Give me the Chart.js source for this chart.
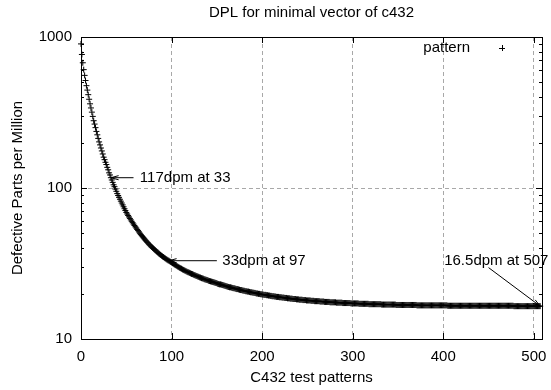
<!DOCTYPE html>
<html>
<head>
<meta charset="utf-8">
<script src="https://cdn.jsdelivr.net/npm/chart.js@4.4.0/dist/chart.umd.min.js"></script>
<style>
  html, body { margin: 0; padding: 0; background: #fff; }
  #wrap { width: 551px; height: 390px; }
</style>
</head>
<body>
<div id="wrap"><canvas id="c" width="551" height="390"></canvas></div>
<script>
const title = 'DPL for minimal vector of c432';
const xTitle = 'C432 test patterns';
const yTitle = 'Defective Parts per Million';
const seriesName = 'pattern';
const xTicks = [0, 100, 200, 300, 400, 500];
const yTicks = [10, 100, 1000];

// DPL after each pattern (array index = pattern number)
const dpm = [
  900,766,675,608,557,515,476,445,415,387,
  361,339,318,298,279,265,251,237,225,213,
  202,193,184,176,168,160,154,148,143,137,
  132,126,122,117,113,109,105,102,98.4,95.1,
  91.8,89.2,86.7,84.2,81.8,79.5,77.3,75.1,72.9,70.9,
  68.9,67.3,65.8,64.3,62.9,61.5,60.2,58.9,57.7,56.5,
  55.3,54.3,53.2,52.2,51.2,50.2,49.3,48.4,47.6,46.8,
  46.0,45.2,44.5,43.8,43.2,42.5,41.9,41.3,40.7,40.2,
  39.7,39.2,38.7,38.2,37.7,37.3,36.8,36.4,36.0,35.6,
  35.2,34.9,34.5,34.2,33.8,33.5,33.2,33.0,32.7,32.4,
  32.1,31.8,31.5,31.2,30.9,30.7,30.4,30.1,29.9,29.6,
  29.4,29.2,28.9,28.7,28.5,28.3,28.1,27.9,27.7,27.6,
  27.4,27.2,27.0,26.9,26.7,26.5,26.4,26.2,26.1,25.9,
  25.8,25.6,25.5,25.3,25.2,25.1,24.9,24.8,24.7,24.6,
  24.5,24.3,24.2,24.1,24.0,23.9,23.8,23.7,23.6,23.5,
  23.4,23.2,23.1,23.0,23.0,22.9,22.8,22.7,22.6,22.5,
  22.4,22.3,22.2,22.1,22.0,22.0,21.9,21.8,21.7,21.7,
  21.6,21.5,21.4,21.4,21.3,21.2,21.1,21.1,21.0,20.9,
  20.9,20.8,20.7,20.7,20.6,20.6,20.5,20.4,20.4,20.3,
  20.3,20.2,20.2,20.1,20.0,20.0,19.9,19.9,19.8,19.8,
  19.7,19.7,19.6,19.6,19.6,19.5,19.5,19.4,19.4,19.3,
  19.3,19.2,19.2,19.2,19.1,19.1,19.0,19.0,19.0,18.9,
  18.9,18.9,18.8,18.8,18.8,18.7,18.7,18.7,18.6,18.6,
  18.6,18.5,18.5,18.5,18.4,18.4,18.4,18.4,18.3,18.3,
  18.3,18.2,18.2,18.2,18.2,18.1,18.1,18.1,18.1,18.0,
  18.0,18.0,18.0,18.0,17.9,17.9,17.9,17.9,17.8,17.8,
  17.8,17.8,17.8,17.8,17.7,17.7,17.7,17.7,17.7,17.6,
  17.6,17.6,17.6,17.6,17.6,17.5,17.5,17.5,17.5,17.5,
  17.5,17.5,17.4,17.4,17.4,17.4,17.4,17.4,17.4,17.3,
  17.3,17.3,17.3,17.3,17.3,17.3,17.3,17.3,17.2,17.2,
  17.2,17.2,17.2,17.2,17.2,17.2,17.2,17.1,17.1,17.1,
  17.1,17.1,17.1,17.1,17.1,17.1,17.1,17.1,17.0,17.0,
  17.0,17.0,17.0,17.0,17.0,17.0,17.0,17.0,17.0,17.0,
  17.0,17.0,16.9,16.9,16.9,16.9,16.9,16.9,16.9,16.9,
  16.9,16.9,16.9,16.9,16.9,16.9,16.9,16.9,16.8,16.8,
  16.8,16.8,16.8,16.8,16.8,16.8,16.8,16.8,16.8,16.8,
  16.8,16.8,16.8,16.8,16.8,16.8,16.8,16.8,16.8,16.8,
  16.8,16.7,16.7,16.7,16.7,16.7,16.7,16.7,16.7,16.7,
  16.7,16.7,16.7,16.7,16.7,16.7,16.7,16.7,16.7,16.7,
  16.7,16.7,16.7,16.7,16.7,16.7,16.7,16.7,16.7,16.7,
  16.7,16.7,16.7,16.7,16.7,16.6,16.6,16.6,16.6,16.6,
  16.6,16.6,16.6,16.6,16.6,16.6,16.6,16.6,16.6,16.6,
  16.6,16.6,16.6,16.6,16.6,16.6,16.6,16.6,16.6,16.6,
  16.6,16.6,16.6,16.6,16.6,16.6,16.6,16.6,16.6,16.6,
  16.6,16.6,16.6,16.6,16.6,16.6,16.6,16.6,16.6,16.6,
  16.6,16.6,16.6,16.6,16.6,16.6,16.6,16.6,16.6,16.6,
  16.6,16.6,16.6,16.6,16.6,16.6,16.6,16.6,16.6,16.6,
  16.6,16.6,16.6,16.6,16.6,16.6,16.6,16.6,16.5,16.5,
  16.5,16.5,16.5,16.5,16.5,16.5,16.5,16.5,16.5,16.5,
  16.5,16.5,16.5,16.5,16.5,16.5,16.5,16.5,16.5,16.5,
  16.5,16.5,16.5,16.5,16.5,16.5,16.5,16.5
];

// arrows + labels, in data units
const notes = [
  { text: '117dpm at 33',   at: [65, 117],  from: [58, 117],  to: [33, 117] },
  { text: '33dpm at 97',    at: [156, 33],  from: [150, 33],  to: [97, 33] },
  { text: '16.5dpm at 507', at: [401, 33],  from: [450, 29.7], to: [507, 16.5] }
];

const FAMILY = '"Liberation Sans", Arial, Helvetica, sans-serif';
const FONT = '15px ' + FAMILY;

function arrow(ctx, x0, y0, x1, y1) {
  const ang = Math.atan2(y1 - y0, x1 - x0), len = 8, spread = 0.26;
  ctx.beginPath();
  ctx.moveTo(x0, y0); ctx.lineTo(x1, y1);
  ctx.moveTo(x1 - len * Math.cos(ang - spread), y1 - len * Math.sin(ang - spread));
  ctx.lineTo(x1, y1);
  ctx.lineTo(x1 - len * Math.cos(ang + spread), y1 - len * Math.sin(ang + spread));
  ctx.stroke();
}

const gnuFrame = {
  id: 'gnuFrame',
  afterDatasetsDraw(chart) {
    const { ctx, chartArea: a, scales: { x, y } } = chart;
    ctx.save();
    ctx.strokeStyle = '#000';
    ctx.lineWidth = 1;
    ctx.strokeRect(Math.round(a.left) + 0.5, Math.round(a.top) + 0.5,
                   Math.round(a.right - a.left), Math.round(a.bottom - a.top));

    // tick marks, pointing inwards, mirrored
    ctx.beginPath();
    xTicks.forEach(v => {
      const px = Math.round(x.getPixelForValue(v)) + 0.5;
      ctx.moveTo(px, a.bottom); ctx.lineTo(px, a.bottom - 6);
      ctx.moveTo(px, a.top); ctx.lineTo(px, a.top + 6);
    });
    yTicks.forEach((d, i) => {
      const py = Math.round(y.getPixelForValue(d)) + 0.5;
      ctx.moveTo(a.left, py); ctx.lineTo(a.left + 6, py);
      ctx.moveTo(a.right, py); ctx.lineTo(a.right - 6, py);
      if (i < yTicks.length - 1) {
        for (let k = 2; k <= 9; k++) {
          const pm = Math.round(y.getPixelForValue(k * d)) + 0.5;
          ctx.moveTo(a.left, pm); ctx.lineTo(a.left + 3, pm);
          ctx.moveTo(a.right, pm); ctx.lineTo(a.right - 3, pm);
        }
      }
    });
    ctx.stroke();

    ctx.fillStyle = '#000';
    ctx.font = FONT;
    ctx.textBaseline = 'middle';

    // tick labels
    ctx.textAlign = 'center';
    xTicks.forEach(v => ctx.fillText(String(v), x.getPixelForValue(v), a.bottom + 18));
    ctx.textAlign = 'right';
    yTicks.forEach(v => ctx.fillText(String(v), a.left - 9, y.getPixelForValue(v)));

    // titles
    const cx = (a.left + a.right) / 2;
    ctx.textAlign = 'center';
    ctx.fillText(title, cx, 13);
    ctx.fillText(xTitle, cx, 378);
    ctx.save();
    ctx.translate(18, (a.top + a.bottom) / 2);
    ctx.rotate(-Math.PI / 2);
    ctx.fillText(yTitle, 0, 0);
    ctx.restore();

    // key
    ctx.textAlign = 'right';
    ctx.fillText(seriesName, 470, 48);
    ctx.beginPath();
    ctx.moveTo(499, 48.5); ctx.lineTo(505, 48.5);
    ctx.moveTo(502.5, 45); ctx.lineTo(502.5, 51);
    ctx.stroke();

    // labelled arrows
    ctx.textAlign = 'left';
    notes.forEach(n => {
      ctx.fillText(n.text, x.getPixelForValue(n.at[0]), y.getPixelForValue(n.at[1]));
      arrow(ctx, x.getPixelForValue(n.from[0]), y.getPixelForValue(n.from[1]),
                 x.getPixelForValue(n.to[0]), y.getPixelForValue(n.to[1]));
    });
    ctx.restore();
  }
};

new Chart(document.getElementById('c'), {
  type: 'scatter',
  data: {
    datasets: [{
      label: seriesName,
      data: dpm.map((v, i) => ({ x: i, y: v })),
      pointStyle: 'cross',
      pointRadius: 3,
      pointBorderWidth: 1,
      borderColor: '#000',
      backgroundColor: '#000',
      showLine: false,
      clip: 6
    }]
  },
  options: {
    responsive: false,
    animation: false,
    events: [],
    layout: { padding: { top: 37, right: 9, left: 0, bottom: 0 } },
    plugins: { legend: { display: false }, tooltip: { enabled: false }, title: { display: false } },
    scales: {
      x: {
        type: 'linear', min: 0, max: 509,
        afterBuildTicks: s => { s.ticks = xTicks.map(v => ({ value: v })); },
        afterFit: s => { s.height = 51; },
        grid: { color: '#a8a8a8', lineWidth: 1, drawTicks: false },
        border: { display: false, dash: [4, 3] },
        ticks: { display: false }
      },
      y: {
        type: 'logarithmic', min: 10, max: 1000,
        afterBuildTicks: s => { s.ticks = yTicks.map(v => ({ value: v })); },
        afterFit: s => { s.width = 81; },
        grid: { color: '#a8a8a8', lineWidth: 1, drawTicks: false },
        border: { display: false, dash: [4, 3] },
        ticks: { display: false }
      }
    }
  },
  plugins: [gnuFrame]
});
</script>
</body>
</html>
